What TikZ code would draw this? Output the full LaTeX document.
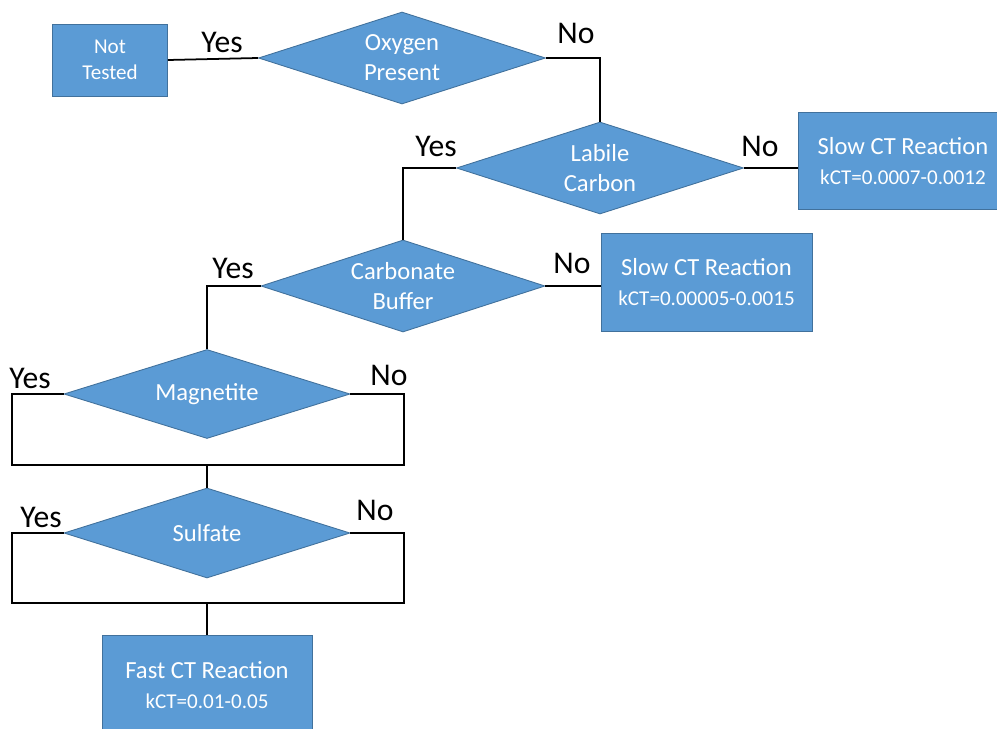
\documentclass[tikz,border=0pt]{standalone}
\usepackage{fontspec}
\setmainfont{Carlito}
\usetikzlibrary{shapes.geometric}
\usetikzlibrary{positioning}
\definecolor{boxblue}{HTML}{5B9BD5}
\definecolor{boxedge}{HTML}{41719C}
\tikzset{decision/.style = {diamond, shape aspect=3, inner sep=0pt,
                            fill=boxblue, draw=boxedge, line width=0.5pt,
                            text=white, align=center,
                            font=\fontsize{14}{17}\selectfont},
         outcome/.style = {rectangle, inner sep=0pt,
                           fill=boxblue, draw=boxedge, line width=0.5pt,
                           text=white, align=center,
                           font=\fontsize{14}{17}\selectfont},
         answer/.style = {font=\fontsize{18}{20}\selectfont},
         link/.style = {line width=1pt}}
\newcommand{\rate}[1]{{\fontsize{12}{15}\selectfont kCT=#1}}

\begin{document}
\begin{tikzpicture}
    \useasboundingbox (0, 0) rectangle (19.94, -14.58);
    % boxes and questions
    \node [outcome, minimum width=2.3cm, minimum height=1.44cm,
           font=\fontsize{12}{15}\selectfont] (nottested) at (2.2, -1.2) {Not\\Tested};
    \node [decision, minimum width=5.74cm, minimum height=1.84cm] (oxygen) at (8.04, -1.16) {Oxygen\\Present};
    \node [decision, minimum width=5.74cm, minimum height=1.84cm] (labile) at (12, -3.36) {Labile\\Carbon};
    \node [outcome, minimum width=4.2cm, minimum height=1.94cm] (slowa) at (18.06, -3.22) {Slow CT Reaction\\\rate{0.0007-0.0012}};
    \node [decision, minimum width=5.68cm, minimum height=1.84cm] (carbonate) at (8.06, -5.72) {Carbonate\\Buffer};
    \node [outcome, minimum width=4.22cm, minimum height=1.96cm] (slowb) at (14.13, -5.64) {Slow CT Reaction\\\rate{0.00005-0.0015}};
    \node [decision, minimum width=5.72cm, minimum height=1.78cm] (magnetite) at (4.14, -7.88) {Magnetite};
    \node [decision, minimum width=5.72cm, minimum height=1.8cm] (sulfate) at (4.14, -10.66) {Sulfate};
    \node [outcome, minimum width=4.2cm, minimum height=2cm] (fast) at (4.14, -13.7) {Fast CT Reaction\\\rate{0.01-0.05}};
    % corners of the two merging loops
    \coordinate (magleft) at (0.24, -9.3);
    \coordinate (magright) at (8.08, -9.3);
    \coordinate (sulleft) at (0.24, -12.06);
    \coordinate (sulright) at (8.08, -12.06);
    % connectors
    \draw [link] (nottested.east) -- (oxygen.west);
    \draw [link] (oxygen.east) -| (labile.north);
    \draw [link] (labile.east) -- (labile.east -| slowa.west);
    \draw [link] (labile.west) -| (carbonate.north);
    \draw [link] (carbonate.east) -- (carbonate.east -| slowb.west);
    \draw [link] (carbonate.west) -| (magnetite.north);
    \draw [link] (magnetite.west) -| (magleft) -- (magright) |- (magnetite.east);
    \draw [link] (magnetite.south |- magleft) -- (sulfate.north);
    \draw [link] (sulfate.west) -| (sulleft) -- (sulright) |- (sulfate.east);
    \draw [link] (sulfate.south |- sulleft) -- (fast.north);
    % branch labels
    \node [answer] (yesa) at (4.44, -0.84) {Yes};
    \node [answer] (noa) at (11.52, -0.66) {No};
    \node [answer] (yesb) at (8.72, -2.92) {Yes};
    \node [answer] (nob) at (15.2, -2.92) {No};
    \node [answer] (yesc) at (4.66, -5.36) {Yes};
    \node [answer] (noc) at (11.44, -5.26) {No};
    \node [answer] (yesd) at (0.6, -7.56) {Yes};
    \node [answer] (nod) at (7.78, -7.5) {No};
    \node [answer] (yese) at (0.82, -10.34) {Yes};
    \node [answer] (noe) at (7.5, -10.2) {No};
\end{tikzpicture}
\end{document}
